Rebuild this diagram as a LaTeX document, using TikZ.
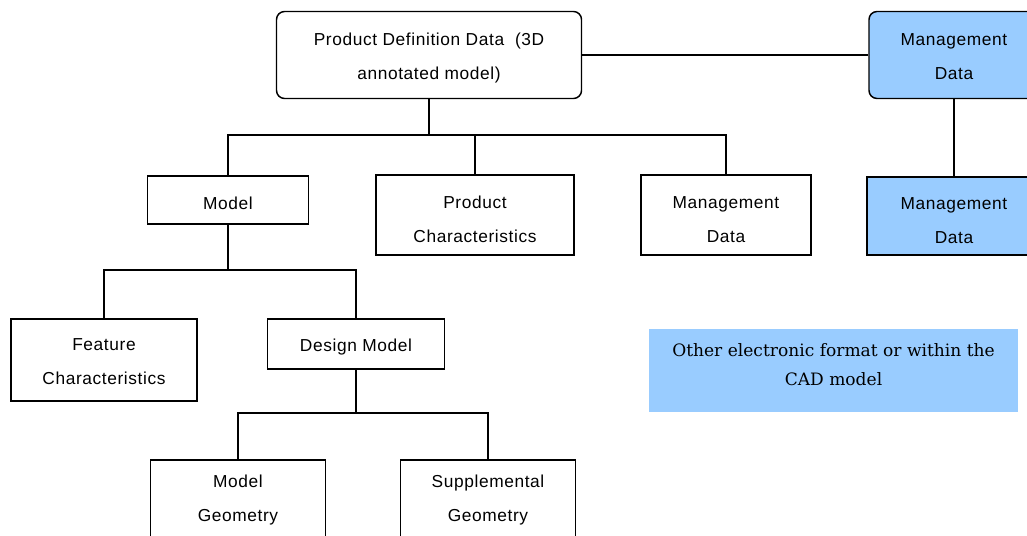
\documentclass[tikz,border=0pt]{standalone}
\usepackage{fontspec}
\setmainfont[LetterSpace=3.5]{Liberation Sans}
\newfontfamily\legendfont{DejaVu Serif}

\definecolor{mgmtblue}{HTML}{99CCFF}

\tikzset{
  block/.style={draw, line width=1.1pt, align=center, inner sep=2pt,
    font=\fontsize{13}{25.5}\selectfont},
  oneline/.style={execute at begin node=\rule{0pt}{14pt}},
  twoline/.style={text height=#1, text depth=3pt},
  twoline/.default=39.3pt,
  rblock/.style={block, rounded corners=6pt},
  mgmt/.style={fill=mgmtblue},
  link/.style={line width=1.1pt},
}

\begin{document}
\begin{tikzpicture}[x=0.75pt,y=-0.75pt]

\clip (0,0) rectangle (1027,535);
\fill[white] (0,0) rectangle (1027,535);

% top level
\node[rblock, twoline, minimum width=228.75pt, minimum height=65.25pt] (pdd) at (429,55)
  {Product Definition Data \ (3D\\annotated model)};
\node[rblock, twoline, mgmt, minimum width=127.5pt, minimum height=65.25pt] (mgtop) at (954,55)
  {Management\\Data};
\node[block, twoline=44.5pt, mgmt, minimum width=130.5pt, minimum height=58.5pt] (mgside) at (954,216)
  {Management\\Data};

% second level
\node[block, oneline, minimum width=120.75pt, minimum height=36pt] (model) at (228,200) {Model};
\node[block, twoline=44.5pt, minimum width=148.5pt, minimum height=60pt] (prodchar) at (475,215)
  {Product\\Characteristics};
\node[block, twoline=44.5pt, minimum width=127.5pt, minimum height=60pt] (mgmid) at (726,215)
  {Management\\Data};

% third level
\node[block, twoline, minimum width=139.5pt, minimum height=61.5pt] (feature) at (104,360)
  {Feature\\Characteristics};
\node[block, oneline, minimum width=132.75pt, minimum height=37.5pt] (design) at (356,344) {Design Model};

% fourth level (runs off the bottom edge)
\node[block, twoline=35.5pt, minimum width=131.25pt, minimum height=60pt] (modelgeo) at (238,500)
  {Model\\Geometry};
\node[block, twoline=35.5pt, minimum width=131.25pt, minimum height=60pt] (suppgeo) at (488,500)
  {Supplemental\\Geometry};

% legend
\node[fill=mgmtblue, minimum width=276.75pt, minimum height=62.25pt, align=center,
  font=\legendfont\fontsize{12.8}{21.75}\selectfont] (legend) at (833.5,370.5)
  {Other electronic format or within the\\CAD model\rule[-9pt]{0pt}{9pt}};

% branch points
\coordinate (busA) at (429,135);
\coordinate (busB) at (228,270);
\coordinate (busC) at (356,413);

% connectors
\draw[link] (pdd) -- (mgtop);
\draw[link] (mgtop) -- (mgside);
\draw[link] (pdd.south) -- (busA) -| (model.north);
\draw[link] (busA) -| (prodchar.north);
\draw[link] (busA) -| (mgmid.north);
\draw[link] (model.south) -- (busB) -| (feature.north);
\draw[link] (busB) -| (design.north);
\draw[link] (design.south) -- (busC) -| (modelgeo.north);
\draw[link] (busC) -| (suppgeo.north);

\end{tikzpicture}
\end{document}
